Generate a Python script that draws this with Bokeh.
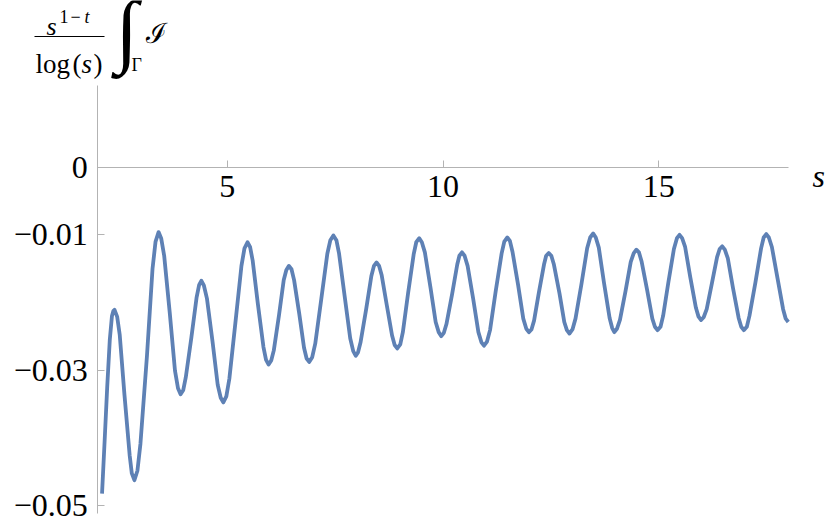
from bokeh.plotting import figure
from bokeh.models import Range1d, FixedTicker, Label, BoxAnnotation
from bokeh.embed import file_html
from bokeh.resources import INLINE

# ---- data ----
s_vals = [2.10, 2.16, 2.22, 2.28, 2.33, 2.36, 2.39,
          2.45, 2.51, 2.62, 2.74, 2.79, 2.85,
          2.92, 2.99, 3.14, 3.27, 3.34, 3.41,
          3.47, 3.54, 3.67, 3.79, 3.86, 3.92,
          3.98, 4.04, 4.17, 4.29, 4.35, 4.40,
          4.46, 4.53, 4.66, 4.78, 4.85, 4.91,
          4.98, 5.05, 5.19, 5.33, 5.40, 5.47,
          5.53, 5.59, 5.71, 5.84, 5.90, 5.96,
          6.02, 6.08, 6.20, 6.31, 6.37, 6.43,
          6.49, 6.55, 6.67, 6.78, 6.84, 6.90,
          6.97, 7.04, 7.18, 7.32, 7.39, 7.46,
          7.53, 7.59, 7.72, 7.85, 7.92, 7.98,
          8.03, 8.09, 8.22, 8.34, 8.40, 8.46,
          8.52, 8.58, 8.70, 8.82, 8.88, 8.94,
          9.01, 9.07, 9.19, 9.32, 9.38, 9.45,
          9.51, 9.58, 9.71, 9.83, 9.90, 9.96,
          10.02, 10.08, 10.21, 10.33, 10.38, 10.44,
          10.50, 10.57, 10.70, 10.82, 10.89, 10.95,
          11.02, 11.09, 11.22, 11.36, 11.42, 11.49,
          11.55, 11.61, 11.74, 11.86, 11.93, 11.99,
          12.05, 12.11, 12.22, 12.34, 12.39, 12.45,
          12.51, 12.57, 12.70, 12.81, 12.87, 12.93,
          13.00, 13.07, 13.21, 13.34, 13.41, 13.48,
          13.54, 13.61, 13.73, 13.86, 13.92, 13.97,
          14.03, 14.10, 14.23, 14.35, 14.42, 14.48,
          14.54, 14.60, 14.73, 14.85, 14.91, 14.97,
          15.04, 15.10, 15.22, 15.35, 15.42, 15.48,
          15.54, 15.61, 15.73, 15.86, 15.92, 15.98,
          16.04, 16.11, 16.23, 16.35, 16.41, 16.47,
          16.53, 16.60, 16.72, 16.85, 16.91, 16.97,
          17.04, 17.10, 17.24, 17.37, 17.43, 17.49,
          17.55, 17.62, 17.75, 17.88, 17.94, 18.00]
v_vals = [-0.0483, -0.0405, -0.0325, -0.0255, -0.0220, -0.0213, -0.0211,
          -0.0221, -0.0248, -0.0337, -0.0426, -0.0453, -0.0463,
          -0.0449, -0.0409, -0.0280, -0.0150, -0.0110, -0.0096,
          -0.0105, -0.0131, -0.0216, -0.0301, -0.0327, -0.0336,
          -0.0330, -0.0311, -0.0252, -0.0193, -0.0174, -0.0168,
          -0.0175, -0.0194, -0.0258, -0.0322, -0.0341, -0.0348,
          -0.0339, -0.0313, -0.0230, -0.0146, -0.0120, -0.0111,
          -0.0118, -0.0138, -0.0202, -0.0266, -0.0285, -0.0292,
          -0.0286, -0.0271, -0.0219, -0.0167, -0.0152, -0.0146,
          -0.0151, -0.0167, -0.0217, -0.0267, -0.0283, -0.0288,
          -0.0281, -0.0261, -0.0195, -0.0128, -0.0108, -0.0101,
          -0.0108, -0.0127, -0.0190, -0.0253, -0.0272, -0.0279,
          -0.0274, -0.0259, -0.0210, -0.0161, -0.0146, -0.0141,
          -0.0146, -0.0160, -0.0205, -0.0249, -0.0263, -0.0268,
          -0.0262, -0.0244, -0.0187, -0.0129, -0.0111, -0.0105,
          -0.0111, -0.0126, -0.0178, -0.0229, -0.0244, -0.0250,
          -0.0245, -0.0232, -0.0188, -0.0144, -0.0131, -0.0126,
          -0.0131, -0.0146, -0.0195, -0.0244, -0.0259, -0.0264,
          -0.0258, -0.0241, -0.0184, -0.0127, -0.0110, -0.0104,
          -0.0109, -0.0125, -0.0174, -0.0224, -0.0239, -0.0244,
          -0.0240, -0.0227, -0.0186, -0.0144, -0.0131, -0.0127,
          -0.0131, -0.0144, -0.0187, -0.0229, -0.0241, -0.0246,
          -0.0240, -0.0224, -0.0172, -0.0120, -0.0104, -0.0098,
          -0.0104, -0.0119, -0.0171, -0.0223, -0.0238, -0.0244,
          -0.0239, -0.0226, -0.0183, -0.0140, -0.0127, -0.0122,
          -0.0126, -0.0139, -0.0182, -0.0224, -0.0236, -0.0241,
          -0.0236, -0.0220, -0.0171, -0.0121, -0.0105, -0.0100,
          -0.0105, -0.0118, -0.0163, -0.0208, -0.0221, -0.0226,
          -0.0222, -0.0210, -0.0172, -0.0133, -0.0121, -0.0117,
          -0.0122, -0.0135, -0.0179, -0.0223, -0.0236, -0.0241,
          -0.0236, -0.0220, -0.0170, -0.0120, -0.0104, -0.0099,
          -0.0104, -0.0118, -0.0164, -0.0210, -0.0224, -0.0229]

x_ticks = [5, 10, 15]
y_ticks = [0, -0.01, -0.03, -0.05]
y_tick_labels = ["0", "\u22120.01", "\u22120.03", "\u22120.05"]
x_label = "s"
x_axis_bounds = (2, 18)
y_axis_bounds = (-0.05118, 0.01209)

# ---- layout: the frame fills the whole canvas, axes sit at fixed locations ----
W, H = 826, 523
PX_PER_X = 43.16          # pixels per unit of s
PX_PER_Y = 6760.0         # pixels per unit of value
X_AT_PX, PX_X = 5.0, 226.7
Y_AT_PX, PX_Y = 0.0, 166.7
XL = X_AT_PX - PX_X / PX_PER_X
XR = X_AT_PX + (W - PX_X) / PX_PER_X
YT = Y_AT_PX + PX_Y / PX_PER_Y
YB = Y_AT_PX - (H - PX_Y) / PX_PER_Y

def dx(px):
    return XL + px / PX_PER_X

def dy(py):
    return YT - py / PX_PER_Y

AX = "#b3b3b3"
SERIF = "Liberation Serif"

p = figure(width=W, height=H, x_range=Range1d(XL, XR), y_range=Range1d(YB, YT),
           output_backend="svg", toolbar_location=None,
           min_border_left=0, min_border_right=0, min_border_top=0, min_border_bottom=0)
p.title.visible = False
p.xgrid.visible = False
p.ygrid.visible = False
p.outline_line_color = None
p.background_fill_color = "white"
p.border_fill_color = "white"

xa = p.xaxis[0]
xa.fixed_location = 0
xa.bounds = x_axis_bounds
xa.ticker = FixedTicker(ticks=x_ticks)
ya = p.yaxis[0]
ya.fixed_location = x_axis_bounds[0]
ya.bounds = y_axis_bounds
ya.ticker = FixedTicker(ticks=y_ticks)
ya.major_label_overrides = dict(zip(y_ticks, y_tick_labels))
for ax in (xa, ya):
    ax.axis_line_color = AX
    ax.axis_line_width = 1
    ax.major_tick_line_color = AX
    ax.major_tick_in = 7
    ax.major_tick_out = 0
    ax.minor_tick_line_color = None
    ax.major_label_text_font = SERIF
    ax.major_label_text_font_size = "32px"
    ax.major_label_text_color = "black"
xa.major_label_standoff = 9
ya.major_label_standoff = 10

p.line(s_vals, v_vals, line_color="#5e81b5", line_width=3.8, line_join="round")

def lab(text, px, py, size, style="normal", font=SERIF, align="left", baseline="alphabetic"):
    p.add_layout(Label(x=dx(px), y=dy(py), text=text, text_font=font,
                       text_font_size=size, text_font_style=style,
                       text_align=align, text_baseline=baseline,
                       text_color="black"))

# axis label
lab(x_label, 812, 175, "32px", "italic")

# y-axis formula label
lab("s", 46, 26, "26px", "italic")
lab("1", 59, 16, "18px")
lab("\u2212", 75, 16, "18px", align="center")
lab("t", 84, 16, "18px", "italic")
p.add_layout(BoxAnnotation(left=dx(34), right=dx(104), top=dy(35.4), bottom=dy(36.6),
                           fill_color="black", fill_alpha=1, line_color=None))
lab("log", 35, 63, "27px")
lab("(", 72, 63, "27px")
lab("s", 81, 63, "27px", "italic")
lab(")", 93, 63, "27px")
lab("\u222b", 115, 29, "82px", "normal", SERIF)
lab("\u0393", 131, 64, "18px")
lab("\u2110", 145, 33, "28px")

open("out.html", "w").write(file_html(p, INLINE))
